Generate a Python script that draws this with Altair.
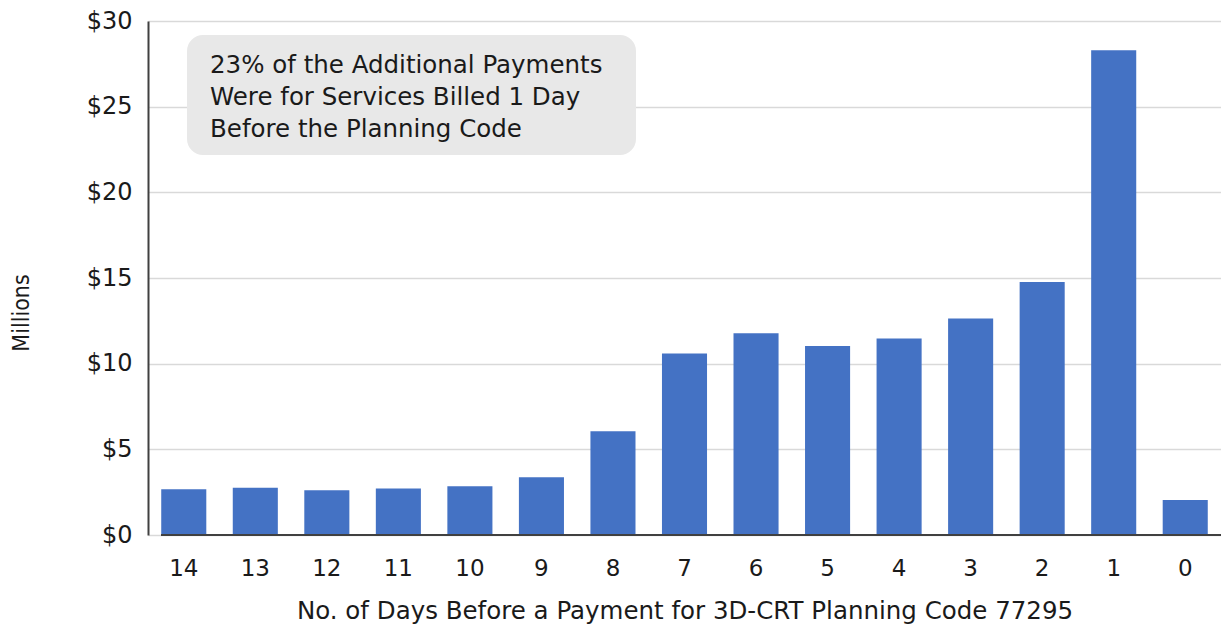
import altair as alt
import pandas as pd

days = ["14", "13", "12", "11", "10", "9", "8", "7", "6", "5", "4", "3", "2", "1", "0"]
payments = [2.67, 2.76, 2.61, 2.72, 2.84, 3.37, 6.05, 10.6, 11.78, 11.03, 11.47, 12.63, 14.77, 28.3, 2.04]
note_lines = ["23% of the Additional Payments", "Were for Services Billed 1 Day", "Before the Planning Code"]

W, H = 1073, 514
FONT = "DejaVu Sans"

df = pd.DataFrame({"day": days, "amount": payments})

bars = alt.Chart(df).mark_bar(color="#4472C4").encode(
    x=alt.X("day:N", sort=days, scale=alt.Scale(paddingInner=0.37, paddingOuter=0.185),
            axis=alt.Axis(title="No. of Days Before a Payment for 3D-CRT Planning Code 77295",
                          labelAngle=0, domain=False, ticks=False, labelPadding=22,
                          labelFontSize=23, labelColor="#1a1a1a", labelFont=FONT,
                          titleFont=FONT, titleFontSize=24.5, titleFontWeight="normal",
                          titleColor="#1a1a1a", titlePadding=19)),
    y=alt.Y("amount:Q", scale=alt.Scale(domain=[0, 30], nice=False),
            axis=alt.Axis(title=None, values=[0, 5, 10, 15, 20, 25, 30], labelExpr="'$' + datum.value",
                          domain=True, domainColor="#404040", domainWidth=2, ticks=False,
                          labelPadding=16, labelFontSize=24, labelFont=FONT, labelColor="#1a1a1a",
                          grid=True, gridColor="#d9d9d9", gridWidth=1.5)),
)

baseline = alt.Chart(pd.DataFrame({"v": [0]})).mark_rule(color="#404040", strokeWidth=2).encode(
    x=alt.value(13), x2=alt.value(W), y=alt.value(H)
)

box = alt.Chart(pd.DataFrame({"v": [0]})).mark_rect(color="#e8e8e8", cornerRadius=16).encode(
    x=alt.value(39), x2=alt.value(488), y=alt.value(14), y2=alt.value(134)
)

note = alt.Chart(pd.DataFrame({"t": ["\n".join(note_lines)]})).mark_text(
    align="left", baseline="middle", fontSize=24.5, font=FONT, color="#1a1a1a",
    lineBreak="\n", lineHeight=32
).encode(x=alt.value(62), y=alt.value(45), text="t:N")

ylab = alt.Chart(pd.DataFrame({"t": ["Millions"]})).mark_text(
    angle=270, fontSize=23,
    font="Liberation Sans Narrow, DejaVu Sans Condensed, Roboto Condensed, Liberation Sans, sans-serif",
    color="#1a1a1a", baseline="middle", align="center"
).encode(x=alt.value(-126), y=alt.value(292), text="t:N")

chart = alt.layer(bars, baseline, box, note, ylab).properties(
    width=W, height=H,
    background="white",
    autosize=alt.AutoSizeParams(type="none"),
    padding={"left": 140, "top": 13, "right": 0, "bottom": 90},
).configure_view(stroke=None)

chart.save("out.html", embed_options={"renderer": "svg", "actions": False})
